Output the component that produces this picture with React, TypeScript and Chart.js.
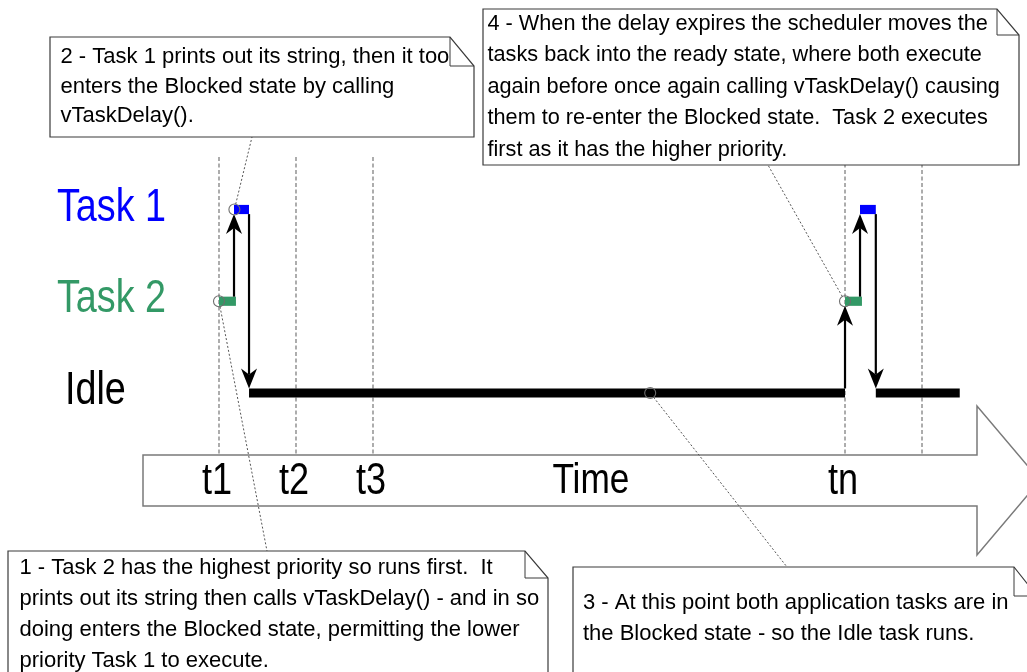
import React, { useEffect, useRef } from "react";
import { Chart, registerables } from "chart.js";

Chart.register(...registerables);

// ---------------- data ----------------
// task rows (level on the y scale)
const TASK_NAMES = ["Task 1", "Task 2", "Idle"];
const TASK_LEVELS = [3, 2, 1];
const TASK_COLORS = ["#0000ff", "#339966", "#000000"];

// time ticks (time units on the x scale)
const TICK_LABELS = ["t1", "t2", "t3", "tn"];
const TICK_VALUES = [1, 2, 3, 9.13];
const GUIDE_VALUES = [1, 2, 3, 9.13, 10.13];
const AXIS_TITLE = "Time";
const AXIS_TITLE_VALUE = 5.83;

// execution runs
const RUN_TASKS = ["Task 2", "Task 1", "Idle", "Task 2", "Task 1", "Idle"];
const RUN_START = [1.0, 1.195, 1.39, 9.13, 9.325, 9.53];
const RUN_END = [1.22, 1.39, 9.13, 9.35, 9.53, 10.62];

// context switches
const SWITCH_TIME = [1.195, 1.39, 9.13, 9.325, 9.53];
const SWITCH_FROM = ["Task 2", "Task 1", "Idle", "Task 2", "Task 1"];
const SWITCH_TO = ["Task 1", "Idle", "Task 2", "Task 1", "Idle"];

// notes
const NOTE_TEXTS = [
  [
    "1 - Task 2 has the highest priority so runs first.  It",
    "prints out its string then calls vTaskDelay() - and in so",
    "doing enters the Blocked state, permitting the lower",
    "priority Task 1 to execute.",
  ],
  [
    "2 - Task 1 prints out its string, then it too",
    "enters the Blocked state by calling",
    "vTaskDelay().",
  ],
  [
    "3 - At this point both application tasks are in",
    "the Blocked state - so the Idle task runs.",
  ],
  [
    "4 - When the delay expires the scheduler moves the",
    "tasks back into the ready state, where both execute",
    "again before once again calling vTaskDelay() causing",
    "them to re-enter the Blocked state.  Task 2 executes",
    "first as it has the higher priority.",
  ],
];
const NOTE_ANCHOR_TIME = [1.0, 1.2, 6.6, 9.13];
const NOTE_ANCHOR_TASK = ["Task 2", "Task 1", "Idle", "Task 2"];

// ---------------- layout / style (not data) ----------------
const W = 1027;
const H = 672;
const X_MIN = 1 - 219 / 77;
const X_MAX = 1 + 808 / 77;
const Y_MIN = 1 - 279 / 91.75;
const Y_MAX = 1 + 393 / 91.75;
const GUIDE_TOP = 3.572;
const GUIDE_BOTTOM = 0.324;

const NOTE_LAYOUT = [
  { l: 8, t: 551, r: 548, b: 700, fw: 23, fh: 27, tx: 19.5, ty: 574, lh: 30.9, lead: [267, 551], size: 22 },
  { l: 50, t: 37, r: 474, b: 137, fw: 24, fh: 29, tx: 60.5, ty: 63.3, lh: 29.2, lead: [252, 137], size: 22 },
  { l: 573, t: 567, r: 1037, b: 700, fw: 23, fh: 29, tx: 583, ty: 609, lh: 31, lead: [787, 567], size: 22 },
  { l: 483, t: 9, r: 1019, b: 165, fw: 22, fh: 26, tx: 487.5, ty: 29.5, lh: 31.5, lead: [768, 165], size: 21.7 },
];
const LABEL_X = [57, 57, 65];
const BAND = { left: 143, top: 455, bottom: 506, neck: 977, headTop: 406, headBottom: 555, tip: 1040 };

let NARROW_OK: boolean | null = null;
function narrowAvailable(): boolean {
  if (NARROW_OK !== null) return NARROW_OK;
  try {
    const c = document.createElement("canvas").getContext("2d")!;
    const s = "Task 1 Idle tn Time abcdefghijklm";
    c.font = "40px monospace";
    const a = c.measureText(s).width;
    c.font = '40px "Liberation Sans Narrow", monospace';
    const b = c.measureText(s).width;
    NARROW_OK = Math.abs(a - b) > 0.5;
  } catch (e) {
    NARROW_OK = false;
  }
  return NARROW_OK;
}

function drawBig(ctx: CanvasRenderingContext2D, text: string, x: number, y: number, size: number, color: string, align: CanvasTextAlign) {
  ctx.save();
  ctx.fillStyle = color;
  ctx.textBaseline = "alphabetic";
  ctx.textAlign = align;
  if (narrowAvailable()) {
    ctx.font = `${size}px "Liberation Sans Narrow", "Liberation Sans", Arial, sans-serif`;
    ctx.fillText(text, x, y);
  } else {
    ctx.font = `${size}px "Liberation Sans", Arial, sans-serif`;
    ctx.translate(x, y);
    ctx.scale(0.82, 1);
    ctx.fillText(text, 0, 0);
  }
  ctx.restore();
}

function levelOf(name: string): number {
  return TASK_LEVELS[TASK_NAMES.indexOf(name)];
}
function colorOf(name: string): string {
  return TASK_COLORS[TASK_NAMES.indexOf(name)];
}

const HALF_BAR = 4.6;

const diagramPlugin = {
  id: "diagram",
  beforeDatasetsDraw(chart: any) {
    const ctx: CanvasRenderingContext2D = chart.ctx;
    const xs = chart.scales.x;
    const ys = chart.scales.y;
    // time arrow band
    ctx.save();
    ctx.beginPath();
    ctx.moveTo(BAND.left, BAND.top);
    ctx.lineTo(BAND.neck, BAND.top);
    ctx.lineTo(BAND.neck, BAND.headTop);
    ctx.lineTo(BAND.tip, (BAND.top + BAND.bottom) / 2);
    ctx.lineTo(BAND.neck, BAND.headBottom);
    ctx.lineTo(BAND.neck, BAND.bottom);
    ctx.lineTo(BAND.left, BAND.bottom);
    ctx.closePath();
    ctx.fillStyle = "#ffffff";
    ctx.fill();
    ctx.strokeStyle = "#7a7a7a";
    ctx.lineWidth = 1.5;
    ctx.stroke();
    ctx.restore();
    // tick labels
    TICK_LABELS.forEach((lab, i) => {
      drawBig(ctx, lab, xs.getPixelForValue(TICK_VALUES[i]) - 2, 494, 44, "#000000", "center");
    });
    drawBig(ctx, AXIS_TITLE, xs.getPixelForValue(AXIS_TITLE_VALUE), 493, 43, "#000000", "center");
    // task labels
    TASK_NAMES.forEach((name, i) => {
      drawBig(ctx, name, LABEL_X[i], ys.getPixelForValue(TASK_LEVELS[i]) + 11, 46, TASK_COLORS[i], "left");
    });
  },
  afterDatasetsDraw(chart: any) {
    const ctx: CanvasRenderingContext2D = chart.ctx;
    const xs = chart.scales.x;
    const ys = chart.scales.y;
    // switch arrows
    ctx.save();
    ctx.fillStyle = "#000000";
    ctx.strokeStyle = "#000000";
    SWITCH_TIME.forEach((t, i) => {
      const x = xs.getPixelForValue(t);
      const yFrom = ys.getPixelForValue(levelOf(SWITCH_FROM[i]));
      const yTo = ys.getPixelForValue(levelOf(SWITCH_TO[i]));
      const dir = yTo > yFrom ? 1 : -1;
      const start = yFrom + dir * HALF_BAR;
      const tip = yTo - dir * HALF_BAR;
      const L = 20, Wd = 8, N = 14;
      ctx.beginPath();
      ctx.lineWidth = 2.2;
      ctx.moveTo(x, start);
      ctx.lineTo(x, tip - dir * N);
      ctx.stroke();
      ctx.beginPath();
      ctx.moveTo(x, tip);
      ctx.lineTo(x - Wd, tip - dir * L);
      ctx.lineTo(x, tip - dir * N);
      ctx.lineTo(x + Wd, tip - dir * L);
      ctx.closePath();
      ctx.fill();
    });
    ctx.restore();

    // notes
    NOTE_TEXTS.forEach((lines, i) => {
      const b = NOTE_LAYOUT[i];
      const ax = xs.getPixelForValue(NOTE_ANCHOR_TIME[i]);
      const ay = ys.getPixelForValue(levelOf(NOTE_ANCHOR_TASK[i]));
      const r = 5.5;
      // anchor circle
      ctx.save();
      ctx.beginPath();
      ctx.arc(ax, ay, r, 0, Math.PI * 2);
      ctx.strokeStyle = "#6e6e6e";
      ctx.lineWidth = 1.1;
      ctx.stroke();
      // leader
      const dx = b.lead[0] - ax, dy = b.lead[1] - ay;
      const d = Math.hypot(dx, dy);
      ctx.beginPath();
      ctx.setLineDash([2, 2]);
      ctx.strokeStyle = "#555555";
      ctx.lineWidth = 1;
      ctx.moveTo(ax + (dx / d) * r, ay + (dy / d) * r);
      ctx.lineTo(b.lead[0], b.lead[1]);
      ctx.stroke();
      ctx.setLineDash([]);
      // box with folded corner
      ctx.beginPath();
      ctx.moveTo(b.l, b.t);
      ctx.lineTo(b.r - b.fw, b.t);
      ctx.lineTo(b.r, b.t + b.fh);
      ctx.lineTo(b.r, b.b);
      ctx.lineTo(b.l, b.b);
      ctx.closePath();
      ctx.fillStyle = "#ffffff";
      ctx.fill();
      ctx.strokeStyle = "#3a3a3a";
      ctx.lineWidth = 1.2;
      ctx.stroke();
      ctx.beginPath();
      ctx.moveTo(b.r - b.fw, b.t);
      ctx.lineTo(b.r - b.fw, b.t + b.fh);
      ctx.lineTo(b.r, b.t + b.fh);
      ctx.lineWidth = 1;
      ctx.stroke();
      // text
      ctx.fillStyle = "#000000";
      ctx.font = `${b.size}px "Liberation Sans", Arial, sans-serif`;
      ctx.textAlign = "left";
      ctx.textBaseline = "alphabetic";
      lines.forEach((ln, k) => ctx.fillText(ln, b.tx, b.ty + k * b.lh));
      ctx.restore();
    });
  },
};

export default function App() {
  const ref = useRef<HTMLCanvasElement | null>(null);
  useEffect(() => {
    if (!ref.current) return;
    const datasets: any[] = [];
    GUIDE_VALUES.forEach((v) => {
      datasets.push({
        data: [
          { x: v, y: GUIDE_TOP },
          { x: v, y: GUIDE_BOTTOM },
        ],
        showLine: true,
        pointRadius: 0,
        borderColor: "#8a8a8a",
        borderWidth: 1.4,
        borderDash: [4, 2.5],
        order: 10,
      });
    });
    RUN_TASKS.forEach((task, i) => {
      datasets.push({
        data: [
          { x: RUN_START[i], y: levelOf(task) },
          { x: RUN_END[i], y: levelOf(task) },
        ],
        showLine: true,
        pointRadius: 0,
        borderColor: colorOf(task),
        borderWidth: 9.2,
        borderCapStyle: "butt",
        order: task === "Idle" ? 5 : 4,
      });
    });
    const chart = new Chart(ref.current, {
      type: "scatter",
      data: { datasets },
      options: {
        animation: false,
        responsive: false,
        maintainAspectRatio: false,
        events: [],
        layout: { padding: 0 },
        plugins: { legend: { display: false }, tooltip: { enabled: false } },
        scales: {
          x: { type: "linear", display: false, min: X_MIN, max: X_MAX },
          y: { type: "linear", display: false, min: Y_MIN, max: Y_MAX },
        },
      },
      plugins: [diagramPlugin],
    } as any);
    return () => chart.destroy();
  }, []);
  return (
    <div style={{ position: "fixed", left: 0, top: 0, width: W, height: H, background: "#ffffff" }}>
      <canvas ref={ref} width={W} height={H} style={{ display: "block", width: W, height: H }} />
    </div>
  );
}
